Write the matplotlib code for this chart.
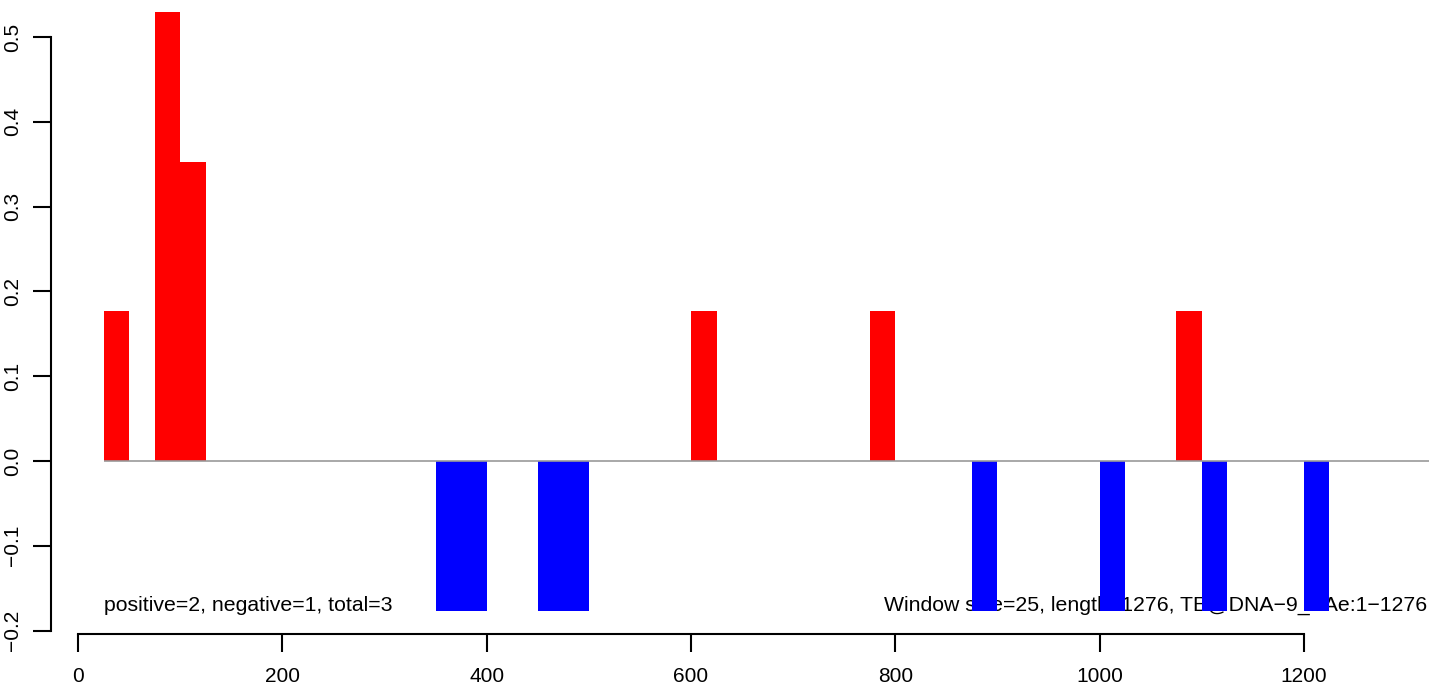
import numpy as np
import matplotlib.pyplot as plt

plt.rcParams['font.family'] = ['Liberation Sans', 'DejaVu Sans']

# window starts (bp) and scores
pos_start = [25, 75, 100, 600, 775, 1075]
pos_val = [3/17, 9/17, 6/17, 3/17, 3/17, 3/17]
neg_start = [350, 375, 450, 475, 875, 1000, 1100, 1200]
neg_val = [-3/17] * 8
win = 25
seq_len = 1276
xticks = [0, 200, 400, 600, 800, 1000, 1200]
yticks = [-0.2, -0.1, 0.0, 0.1, 0.2, 0.3, 0.4, 0.5]

fig = plt.figure(figsize=(14.29, 6.85), dpi=100)
ax = fig.add_axes([51/1429, 51/685, 1 - 51/1429, 1 - 51/685])
ax.set_xlim(-26.4, 1322.4)
ax.set_ylim(-0.204, 0.5436)

ax.text(25, -0.170, "positive=2, negative=1, total=3", fontsize=15.3,
        ha='left', va='center', zorder=1)
ax.text(789, -0.170, "Window size=%d, length=%d, TE@DNA\u22129_AAe:1\u2212%d" % (win, seq_len, seq_len),
        fontsize=15.3, ha='left', va='center', zorder=1, clip_on=False)

ax.bar(pos_start, pos_val, width=win, align='edge', color='red', zorder=2)
ax.bar(neg_start, neg_val, width=win, align='edge', color='blue', zorder=2)
ax.hlines(0, pos_start[0], seq_len + 60, color='#999999', lw=1.2, zorder=3)

for s in ['top', 'right']:
    ax.spines[s].set_visible(False)
ax.spines['left'].set_bounds(-0.2, 0.5)
ax.spines['bottom'].set_bounds(0, 1200)
ax.spines['left'].set_linewidth(1.5)
ax.spines['bottom'].set_linewidth(1.5)
ax.set_xticks(xticks)
ax.set_xticklabels([str(t) for t in xticks])
ax.set_yticks(yticks)
ax.set_yticklabels(["%.1f" % t if t >= 0 else "\u2212%.1f" % -t for t in yticks],
                   rotation=90, va='center')
ax.tick_params(length=13, width=1.5, labelsize=15, pad=8)
ax.tick_params(axis='x', pad=11)

fig.savefig("out.png", dpi=100)
